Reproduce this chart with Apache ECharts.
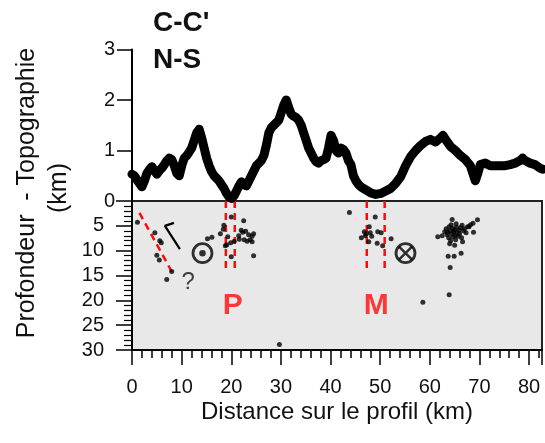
<!DOCTYPE html>
<html>
<head>
<meta charset="utf-8">
<script src="https://cdn.jsdelivr.net/npm/echarts@6/dist/echarts.min.js"></script>
<style>
  html, body { margin: 0; padding: 0; background: #fff; }
  #coupe { width: 545px; height: 443px; }
</style>
</head>
<body>
<div id="coupe"></div>
<script>
// profil topographique (km le long du profil, altitude en km)
var topoKm = [0, 0.5, 1, 1.5, 2, 2.5, 3, 3.5, 4, 4.5, 5, 5.5, 6, 6.5, 7, 7.5, 8, 8.5, 9, 9.5,
    10, 10.5, 11, 11.5, 12, 12.5, 13, 13.5, 14, 14.5, 15, 15.5, 16, 16.5, 17, 17.5, 18, 18.5, 19, 19.5,
    20, 20.5, 21, 21.5, 22, 22.5, 23, 23.5, 24, 24.5, 25, 25.5, 26, 26.5, 27, 27.5, 28, 28.5, 29, 29.5,
    30, 30.5, 31, 31.5, 32, 32.5, 33, 33.5, 34, 34.5, 35, 35.5, 36, 36.5, 37, 37.5, 38, 38.5, 39, 39.5,
    40, 40.5, 41, 41.5, 42, 42.5, 43, 43.5, 44, 44.5, 45, 45.5, 46, 47, 48, 49, 50, 51, 52, 53, 54,
    55, 56, 57, 58, 59, 60, 61, 62, 62.5, 63, 64, 65, 66, 67, 68, 68.5, 69, 69.5, 70, 71, 72, 73, 74,
    75, 76, 77, 78, 78.5, 79, 80, 81, 82, 82.6];
var topoAlt = [0.53, 0.5, 0.42, 0.35, 0.28, 0.4, 0.55, 0.62, 0.68, 0.6, 0.53, 0.6, 0.65, 0.72, 0.8, 0.85, 0.82, 0.7, 0.55, 0.5,
    0.7, 0.85, 0.9, 0.97, 1.05, 1.2, 1.35, 1.42, 1.25, 1.05, 0.85, 0.7, 0.58, 0.5, 0.45, 0.4, 0.32, 0.25, 0.15, 0.08,
    0.05, 0.1, 0.2, 0.3, 0.38, 0.32, 0.3, 0.4, 0.5, 0.6, 0.7, 0.75, 0.8, 0.9, 1.1, 1.35, 1.45, 1.5, 1.55, 1.6,
    1.75, 1.9, 2.0, 1.85, 1.72, 1.68, 1.65, 1.6, 1.5, 1.35, 1.2, 1.05, 0.95, 0.85, 0.78, 0.75, 0.8, 0.82, 0.85, 1.05,
    1.3, 1.2, 1.0, 0.95, 1.05, 1.02, 0.95, 0.8, 0.72, 0.5, 0.4, 0.33, 0.28, 0.22, 0.16, 0.13, 0.15, 0.2, 0.25, 0.35, 0.48,
    0.7, 0.88, 1.0, 1.1, 1.18, 1.22, 1.17, 1.25, 1.3, 1.22, 1.08, 1.0, 0.9, 0.82, 0.7, 0.55, 0.4, 0.55, 0.72, 0.75, 0.7, 0.7, 0.7,
    0.7, 0.72, 0.75, 0.8, 0.85, 0.8, 0.75, 0.72, 0.65, 0.63];

// seismes (distance km, profondeur km)
var seismeKm = [1.1, 4.6, 5.6, 5.9, 5.0, 5.5, 7.0, 8.0,
    15.2, 16.1, 17.8, 18.4, 18.5, 20.0, 22.5, 22.0, 22.3, 22.9, 23.5, 24.2, 24.5, 23.8, 23.2, 22.6, 21.6,
    20.6, 19.9, 19.1, 19.3, 21.5, 24.5, 20.0, 18.8, 24.2,
    29.7,
    43.8, 49.0, 47.8, 46.8, 47.2, 46.2, 48.0, 48.3, 47.7, 49.5, 50.2, 49.4, 50.5, 52.2, 47.0,
    61.6, 62.5, 63.0, 63.3, 63.5, 63.8, 63.9, 64.1, 64.2, 64.4, 64.5, 64.6, 64.7, 64.8, 65.0, 65.1, 65.2,
    65.4, 65.5, 65.7, 65.9, 66.0, 66.2, 66.4, 66.6, 66.8, 67.0, 67.3, 67.6, 67.9, 68.2, 68.7, 68.8, 69.6,
    64.0, 65.0, 63.6, 64.3, 65.3, 66.5, 63.7, 64.9, 66.3, 64.1, 63.9, 58.6];
var seismeProf = [4.3, 6.4, 8.0, 8.4, 10.9, 11.9, 15.8, 14.2,
    7.6, 7.3, 6.6, 5.7, 4.9, 3.2, 4.0, 5.9, 6.3, 6.1, 6.8, 7.1, 6.6, 7.8, 8.1, 7.8, 7.7,
    8.1, 8.4, 8.8, 7.2, 7.0, 11.0, 11.2, 9.0, 8.2,
    28.9,
    2.3, 3.2, 5.2, 6.2, 6.6, 7.4, 6.4, 7.1, 8.2, 6.2, 6.4, 8.5, 9.0, 7.6, 7.0,
    7.2, 7.0, 6.2, 5.6, 6.8, 7.4, 5.2, 6.0, 8.0, 6.6, 3.7, 5.5, 7.2, 6.2, 5.8, 6.9, 7.8,
    5.3, 6.4, 7.1, 5.9, 6.6, 5.4, 7.4, 8.2, 6.0, 5.6, 6.4, 5.2, 5.2, 4.8, 4.5, 6.3, 3.8,
    8.6, 8.9, 6.3, 4.8, 4.6, 4.9, 11.1, 11.1, 10.5, 13.4, 18.9, 20.4];

// traits rouges (failles) et annotations
var failles = [
    [[1.5, 2.4], [8.0, 14.2]],
    [[18.9, 0], [18.9, 14.2]],
    [[20.7, 0], [20.7, 14.2]],
    [[47.3, 0], [47.3, 13.9]],
    [[50.9, 0], [50.9, 13.9]]
];
var fleche = [[9.65, 9.7], [6.63, 5.0], [8.45, 4.4]];
var sortant = [14.2, 10.5];   // symbole point (vers le lecteur)
var entrant = [55.1, 10.5];   // symbole croix
var etiquettes = [
    {name: 'P', value: [20.3, 21.0]},
    {name: 'M', value: [49.2, 21.0]}
];
var question = [11.3, 16.4];

var xTicks = [0, 10, 20, 30, 40, 50, 60, 70, 80];

var police = 'Liberation Sans, Arial, sans-serif';
var rouge = '#ff0a0a';

(function () {
    var chart = echarts.init(document.getElementById('coupe'));

    var topo = topoKm.map(function (k, i) { return [k, topoAlt[i]]; });
    var seismes = seismeKm.map(function (k, i) { return [k, seismeProf[i]]; });

    var series = [
        {
            name: 'topographie',
            type: 'line',
            xAxisIndex: 0,
            yAxisIndex: 0,
            data: topo,
            symbol: 'none',
            clip: false,
            z: 5,
            lineStyle: {color: '#000', width: 9, join: 'round', cap: 'round'}
        },
        {
            name: 'seismes',
            type: 'scatter',
            xAxisIndex: 1,
            yAxisIndex: 1,
            data: seismes,
            symbolSize: 5,
            itemStyle: {color: '#000'},
            z: 4
        },
        {
            type: 'line',
            xAxisIndex: 1,
            yAxisIndex: 1,
            data: fleche,
            symbol: 'none',
            lineStyle: {color: '#000', width: 2.2}
        },
        {
            type: 'scatter',
            xAxisIndex: 1,
            yAxisIndex: 1,
            data: [sortant, entrant],
            symbol: 'circle',
            symbolSize: 19,
            itemStyle: {color: 'rgba(0,0,0,0)', borderColor: '#000', borderWidth: 2.8}
        },
        {
            type: 'scatter',
            xAxisIndex: 1,
            yAxisIndex: 1,
            data: [sortant],
            symbolSize: 6.5,
            itemStyle: {color: '#000'}
        },
        {
            type: 'scatter',
            xAxisIndex: 1,
            yAxisIndex: 1,
            data: [entrant],
            symbol: 'path://M-7,-7L7,7M7,-7L-7,7',
            symbolSize: 13,
            itemStyle: {color: 'rgba(0,0,0,0)', borderColor: '#000', borderWidth: 2.5}
        },
        {
            type: 'scatter',
            xAxisIndex: 1,
            yAxisIndex: 1,
            data: etiquettes,
            symbolSize: 1,
            itemStyle: {color: 'rgba(0,0,0,0)'},
            label: {
                show: true, position: 'inside', formatter: '{b}',
                color: rouge, fontSize: 30, fontWeight: 'bold', fontFamily: police
            }
        },
        {
            type: 'scatter',
            xAxisIndex: 1,
            yAxisIndex: 1,
            data: [{name: '?', value: question}],
            symbolSize: 1,
            itemStyle: {color: 'rgba(0,0,0,0)'},
            label: {
                show: true, position: 'inside', formatter: '{b}',
                color: '#111', fontSize: 24, fontFamily: police
            }
        }
    ];

    failles.forEach(function (f) {
        series.push({
            type: 'line',
            xAxisIndex: 1,
            yAxisIndex: 1,
            data: f,
            symbol: 'none',
            z: 3,
            lineStyle: {color: rouge, width: 2.5, type: [7, 5]}
        });
    });

    var option = {
        animation: false,
        backgroundColor: '#fff',
        textStyle: {fontFamily: police},
        title: [
            {text: "C-C'", left: 153, top: 9, padding: 0,
                textStyle: {fontSize: 28, fontWeight: 'bold', color: '#111', fontFamily: police}},
            {text: 'N-S', left: 153, top: 46, padding: 0,
                textStyle: {fontSize: 28, fontWeight: 'bold', color: '#111', fontFamily: police}}
        ],
        graphic: [
            {type: 'text', x: 27, y: 193, rotation: Math.PI / 2,
                style: {text: 'Profondeur  - Topographie', font: '25px ' + police, fill: '#111',
                    align: 'center', verticalAlign: 'middle'}},
            {type: 'text', x: 59, y: 188, rotation: Math.PI / 2,
                style: {text: '(km)', font: '25px ' + police, fill: '#111',
                    align: 'center', verticalAlign: 'middle'}}
        ],
        grid: [
            {left: 132, right: 2, top: 49.5, height: 151.5},
            {left: 132, right: 2, top: 201, height: 149, show: true,
                backgroundColor: '#e8e8e8', borderColor: '#222', borderWidth: 2}
        ],
        xAxis: [
            {gridIndex: 0, type: 'value', min: 0, max: 82.6, show: false},
            {
                gridIndex: 1, type: 'value', min: 0, max: 82.6, interval: 10,
                axisLine: {onZero: false, lineStyle: {color: '#000', width: 2}},
                axisTick: {length: 15, lineStyle: {color: '#000', width: 1.5}},
                minorTick: {show: true, splitNumber: 5, length: 8, lineStyle: {color: '#000', width: 1.5}},
                splitLine: {show: false},
                axisLabel: {
                    fontSize: 20, margin: 27, color: '#111', fontFamily: police,
                    formatter: function (v) { return xTicks.indexOf(v) >= 0 ? String(v) : ''; }
                },
                name: 'Distance sur le profil (km)',
                nameLocation: 'middle',
                nameGap: 50,
                nameTextStyle: {fontSize: 24, color: '#111', fontFamily: police}
            }
        ],
        yAxis: [
            {
                gridIndex: 0, type: 'value', min: 0, max: 3, interval: 1,
                axisLine: {show: true, lineStyle: {color: '#000', width: 2}},
                axisTick: {show: true, length: 15, lineStyle: {color: '#000', width: 1.5}},
                splitLine: {show: false},
                axisLabel: {fontSize: 20, margin: 17, color: '#111', fontFamily: police}
            },
            {
                gridIndex: 1, type: 'value', min: 0, max: 30, interval: 5, inverse: true,
                axisLine: {show: true, lineStyle: {color: '#000', width: 2}},
                axisTick: {show: true, length: 16, lineStyle: {color: '#000', width: 1.5}},
                minorTick: {show: true, splitNumber: 5, length: 8, lineStyle: {color: '#000', width: 1.2}},
                splitLine: {show: false},
                axisLabel: {
                    fontSize: 20, margin: 28, color: '#111', fontFamily: police,
                    formatter: function (v) { return v === 0 ? '' : String(v); }
                }
            }
        ],
        series: series
    };
    chart.setOption(option);
})();
</script>
</body>
</html>
